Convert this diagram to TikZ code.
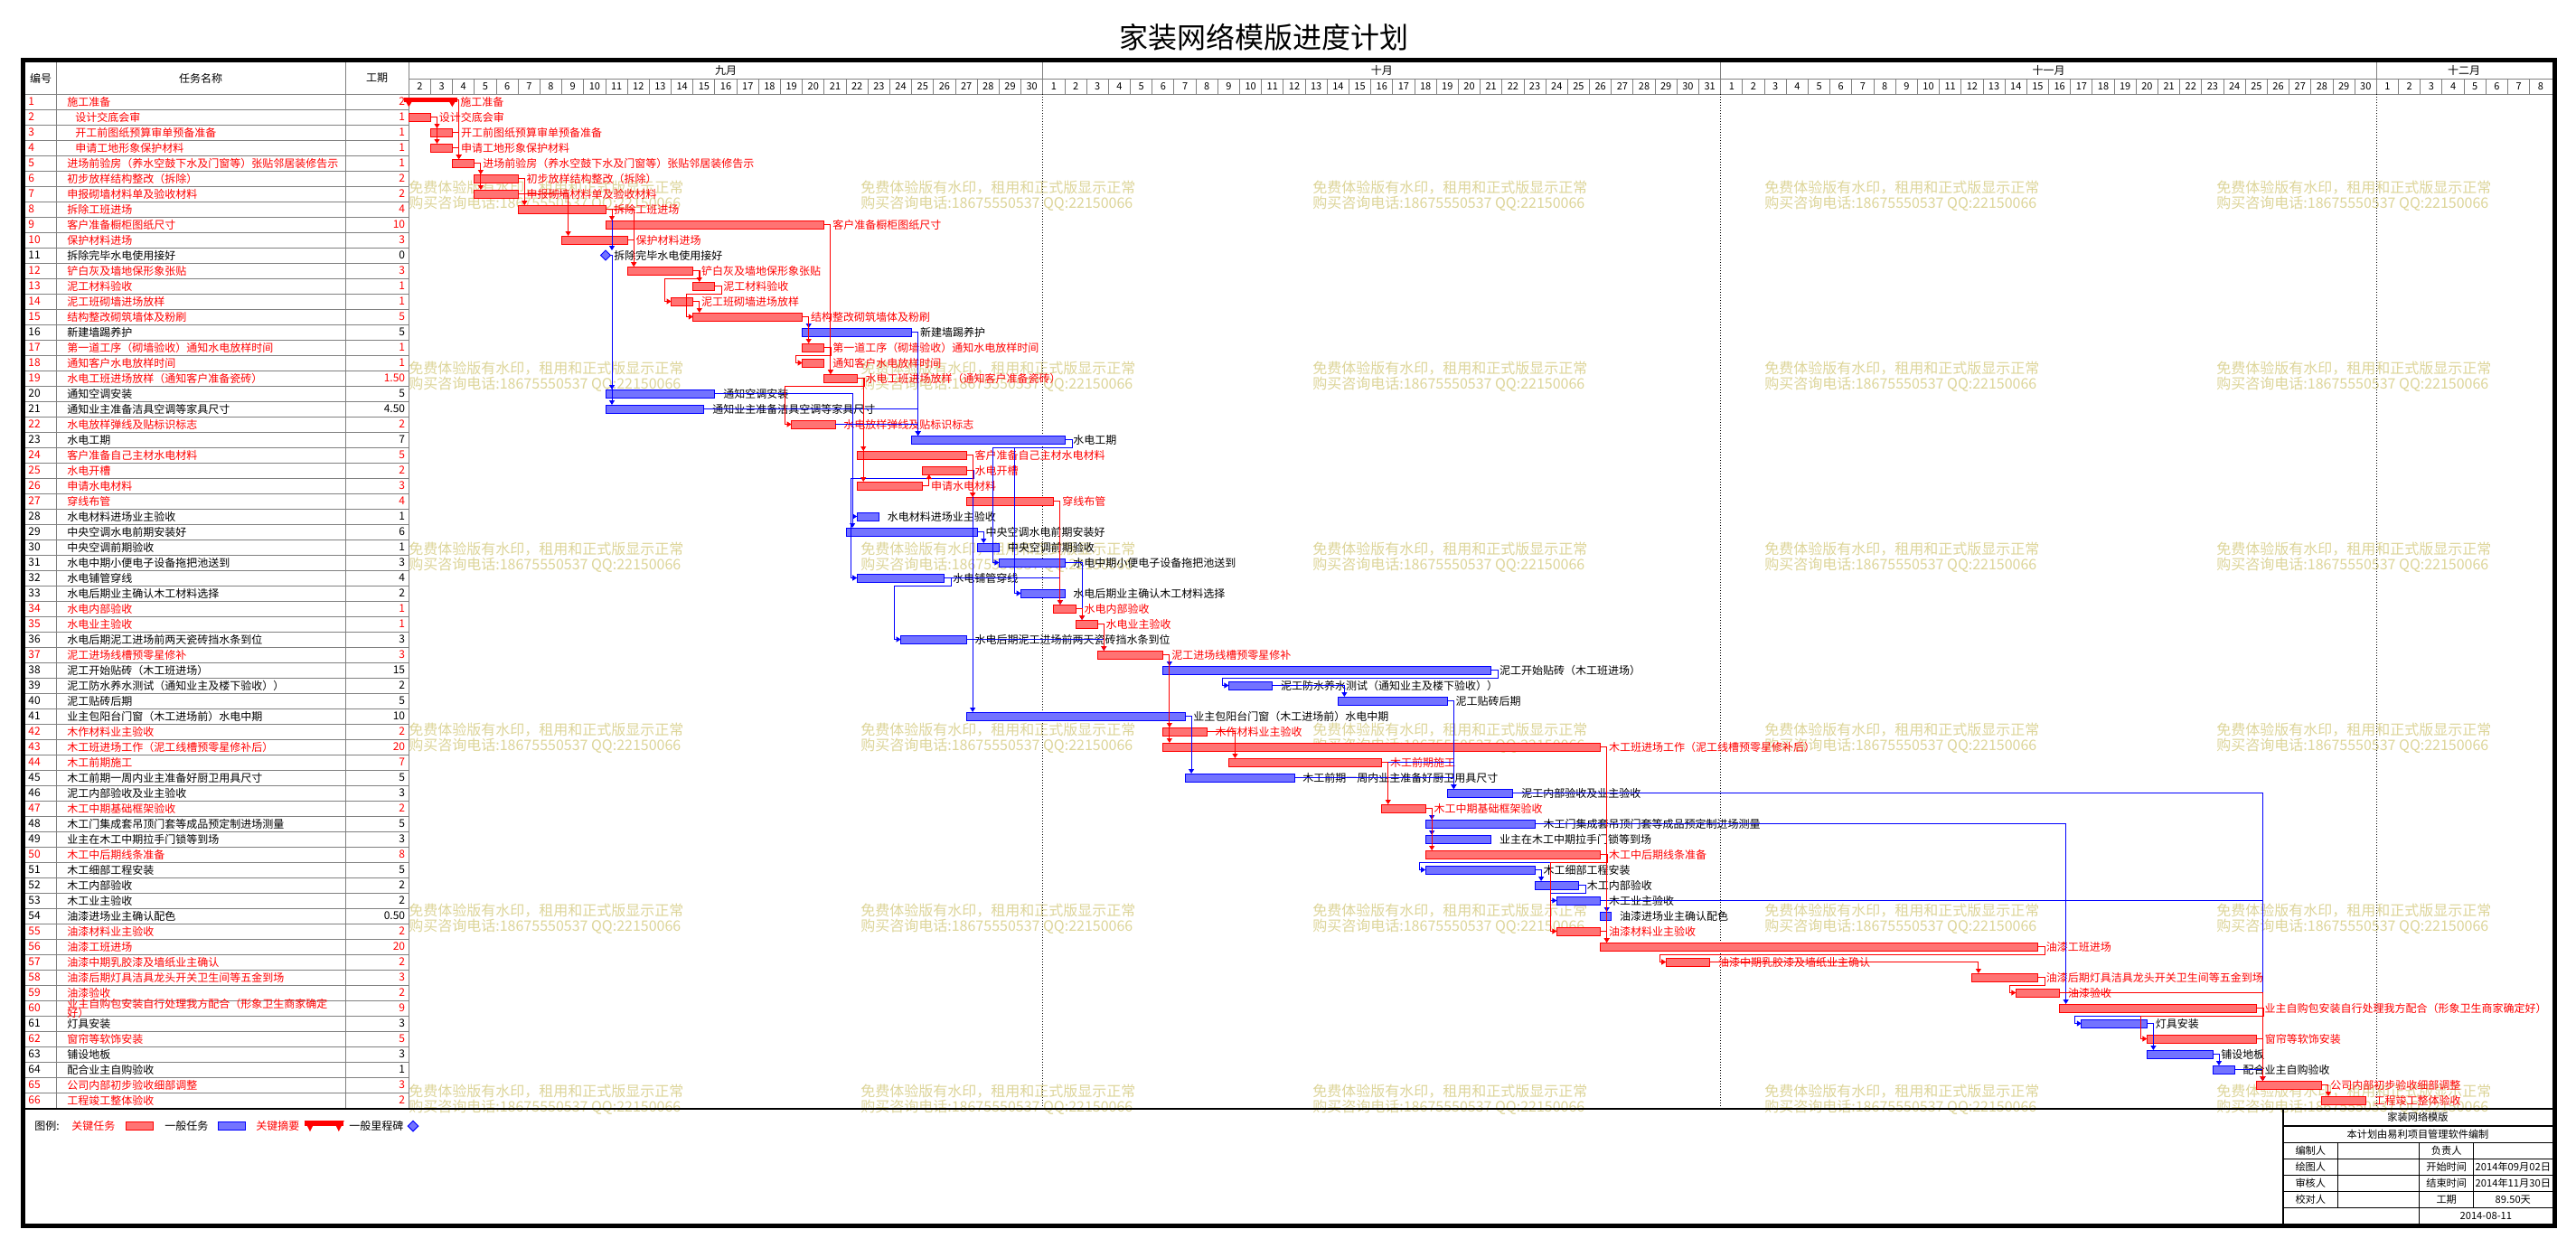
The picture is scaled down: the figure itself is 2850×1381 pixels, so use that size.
\documentclass[tikz,border=0pt]{standalone}
\usepackage{fontspec}
\newfontfamily\cjk{Noto Sans CJK SC}
\usetikzlibrary{arrows.meta,shapes.geometric}
\definecolor{wmark}{RGB}{221,213,153}
\definecolor{gridgray}{RGB}{128,128,128}

\begin{document}
\begin{tikzpicture}[x=0.5pt, y=-0.5pt, font={\cjk\fontsize{6pt}{7pt}\selectfont},
	barr/.style={rectangle, draw=red, fill=red!55, line width=0.5pt, inner sep=0pt, outer sep=0pt, minimum height=4.5pt, anchor=west},
	barb/.style={barr, draw=blue, fill=blue!55},
	txtr/.style={text=red, anchor=west, inner sep=0pt},
	txtb/.style={txtr, text=black},
	lnkr/.style={draw=red, line width=0.5pt, -{Triangle[length=2.5pt,width=3pt]}},
	lnkb/.style={lnkr, draw=blue},
	wm/.style={text=wmark, anchor=west, inner sep=0pt, font={\cjk\fontsize{8pt}{9pt}\selectfont}},
	daytxt/.style={inner sep=0pt, font={\cjk\fontsize{5.5pt}{6pt}\selectfont}},
	grd/.style={draw=gridgray, line width=0.5pt},
	blk/.style={inner sep=0pt, font={\cjk\fontsize{5.6pt}{6pt}\selectfont}}]

		\fill[white] (0,0) rectangle (2850,1381);
		\useasboundingbox (0,0) rectangle (2850,1381);

		\node[font={\cjk\fontsize{16pt}{18pt}\selectfont}] (title) at (1398,41) {家装网络模版进度计划};

		% watermark
		\foreach \j in {0,...,4}
			\foreach \k in {0,...,5} {
				\node[wm] at ({452+500*\j},{208+200*\k}) {免费体验版有水印，租用和正式版显示正常};
				\node[wm] at ({452+500*\j},{225.5+200*\k}) {购买咨询电话:18675550537 QQ:22150066};
			}

		% table and time scale
		\draw[grd] (28,104) -- (2824,104);
		\draw[grd] (452,87) -- (2824,87);
		\foreach \r in {1,...,65}
			\draw[grd] (28,{104+17*\r}) -- (452,{104+17*\r});
		\foreach \x in {62,382,452}
			\draw[grd] (\x,69) -- (\x,1227);
		\foreach \d in {1,...,97}
			\draw[grd] ({452.3+24.19*\d},87) -- ++(0,17);
		\foreach \d in {29,60,90} {
			\draw[grd] ({452.3+24.19*\d},69) -- ++(0,35);
			\draw[densely dotted, line width=0.5pt] ({452.3+24.19*\d},104) -- ({452.3+24.19*\d},1227);
		}
		\node at (45,86.5) {编号};
		\node at (222,86.5) {任务名称};
		\node at (417,86.5) {工期};
		\node at ({452.3+24.19*14.5},78) {九月};
		\node at ({452.3+24.19*44.5},78) {十月};
		\node at ({452.3+24.19*75},78) {十一月};
		\node at ({452.3+24.19*94},78) {十二月};
		\foreach \n [count=\k from 0] in {2,...,30}
			\node[daytxt] at ({452.3+24.19*(\k+0.5)},95.5) {\n};
		\foreach \n [count=\k from 29] in {1,...,31}
			\node[daytxt] at ({452.3+24.19*(\k+0.5)},95.5) {\n};
		\foreach \n [count=\k from 60] in {1,...,30}
			\node[daytxt] at ({452.3+24.19*(\k+0.5)},95.5) {\n};
		\foreach \n [count=\k from 90] in {1,...,8}
			\node[daytxt] at ({452.3+24.19*(\k+0.5)},95.5) {\n};

		% summary task 1
		\node[txtr] at (31,112.5) {1};
		\node[txtr] at (74,112.5) {施工准备};
		\node[txtr, anchor=east] at (448.5,112.5) {2};
		\node[rectangle, fill=red, inner sep=0pt, outer sep=0pt, minimum width=29.75pt, minimum height=2.5pt, anchor=north west] (b1) at (446.6,108.3) {};
		\fill[red] (b1.north west) -- ++(11.5,0) -- ++(-5.75,10) -- cycle;
		\fill[red] (b1.north east) -- ++(-11.5,0) -- ++(5.75,10) -- cycle;
		\node[txtr] at (509,112.5) {施工准备};

		% milestone 11
		\node[txtb] at (31,282.5) {11};
		\node[txtb] at (74,282.5) {拆除完毕水电使用接好};
		\node[txtb, anchor=east] at (448.5,282.5) {0};
		\node[diamond, draw=blue, fill=blue!55, line width=0.5pt, inner sep=0pt, outer sep=0pt, minimum width=5.5pt, minimum height=5.5pt] (b11) at (670,282.5) {};
		\node[txtb] at (679,282.5) {拆除完毕水电使用接好};

		% task 60 (two lines in the table)
		\node[txtr] at (31,1115.5) {60};
		\node[txtr] at (74,1110.5) {业主自购包安装自行处理我方配合（形象卫生商家确定};
		\node[txtr] at (74,1120.5) {好）};
		\node[txtr, anchor=east] at (448.5,1115.5) {9};
		\node[barr, minimum width=108.86pt] (b60) at (2278.6,1115.5) {};
		\node[txtr] at ([xshift=4.5pt]b60.east) {业主自购包安装自行处理我方配合（形象卫生商家确定好）};

		% tasks: id/start/end/kind/duration/name x/name
		\foreach \tid/\ts/\te/\tk/\tdur/\tx/\tname in {
			2/0/1/r/1/83/设计交底会审,
			3/1/2/r/1/83/开工前图纸预算审单预备准备,
			4/1/2/r/1/83/申请工地形象保护材料,
			5/2/3/r/1/74/进场前验房（养水空鼓下水及门窗等）张贴邻居装修告示,
			6/3/5/r/2/74/初步放样结构整改（拆除）,
			7/3/5/r/2/74/申报砌墙材料单及验收材料,
			8/5/9/r/4/74/拆除工班进场,
			9/9/19/r/10/74/客户准备橱柜图纸尺寸,
			10/7/10/r/3/74/保护材料进场,
			12/10/13/r/3/74/铲白灰及墙地保形象张贴,
			13/13/14/r/1/74/泥工材料验收,
			14/12/13/r/1/74/泥工班砌墙进场放样,
			15/13/18/r/5/74/结构整改砌筑墙体及粉刷,
			16/18/23/b/5/74/新建墙踢养护,
			17/18/19/r/1/74/第一道工序（砌墙验收）通知水电放样时间,
			18/18/19/r/1/74/通知客户水电放样时间,
			19/19/20.5/r/1.50/74/水电工班进场放样（通知客户准备瓷砖）,
			20/9/14/b/5/74/通知空调安装,
			21/9/13.5/b/4.50/74/通知业主准备洁具空调等家具尺寸,
			22/17.5/19.5/r/2/74/水电放样弹线及贴标识标志,
			23/23/30/b/7/74/水电工期,
			24/20.5/25.5/r/5/74/客户准备自己主材水电材料,
			25/23.5/25.5/r/2/74/水电开槽,
			26/20.5/23.5/r/3/74/申请水电材料,
			27/25.5/29.5/r/4/74/穿线布管,
			28/20.5/21.5/b/1/74/水电材料进场业主验收,
			29/20/26/b/6/74/中央空调水电前期安装好,
			30/26/27/b/1/74/中央空调前期验收,
			31/27/30/b/3/74/水电中期小便电子设备拖把池送到,
			32/20.5/24.5/b/4/74/水电铺管穿线,
			33/28/30/b/2/74/水电后期业主确认木工材料选择,
			34/29.5/30.5/r/1/74/水电内部验收,
			35/30.5/31.5/r/1/74/水电业主验收,
			36/22.5/25.5/b/3/74/水电后期泥工进场前两天瓷砖挡水条到位,
			37/31.5/34.5/r/3/74/泥工进场线槽预零星修补,
			38/34.5/49.5/b/15/74/泥工开始贴砖（木工班进场）,
			39/37.5/39.5/b/2/74/泥工防水养水测试（通知业主及楼下验收））,
			40/42.5/47.5/b/5/74/泥工贴砖后期,
			41/25.5/35.5/b/10/74/业主包阳台门窗（木工进场前）水电中期,
			42/34.5/36.5/r/2/74/木作材料业主验收,
			43/34.5/54.5/r/20/74/木工班进场工作（泥工线槽预零星修补后）,
			44/37.5/44.5/r/7/74/木工前期施工,
			45/35.5/40.5/b/5/74/木工前期一周内业主准备好厨卫用具尺寸,
			46/47.5/50.5/b/3/74/泥工内部验收及业主验收,
			47/44.5/46.5/r/2/74/木工中期基础框架验收,
			48/46.5/51.5/b/5/74/木工门集成套吊顶门套等成品预定制进场测量,
			49/46.5/49.5/b/3/74/业主在木工中期拉手门锁等到场,
			50/46.5/54.5/r/8/74/木工中后期线条准备,
			51/46.5/51.5/b/5/74/木工细部工程安装,
			52/51.5/53.5/b/2/74/木工内部验收,
			53/52.5/54.5/b/2/74/木工业主验收,
			54/54.5/55/b/0.50/74/油漆进场业主确认配色,
			55/52.5/54.5/r/2/74/油漆材料业主验收,
			56/54.5/74.5/r/20/74/油漆工班进场,
			57/57.5/59.5/r/2/74/油漆中期乳胶漆及墙纸业主确认,
			58/71.5/74.5/r/3/74/油漆后期灯具洁具龙头开关卫生间等五金到场,
			59/73.5/75.5/r/2/74/油漆验收,
			61/76.5/79.5/b/3/74/灯具安装,
			62/79.5/84.5/r/5/74/窗帘等软饰安装,
			63/79.5/82.5/b/3/74/铺设地板,
			64/82.5/83.5/b/1/74/配合业主自购验收,
			65/84.5/87.5/r/3/74/公司内部初步验收细部调整,
			66/87.5/89.5/r/2/74/工程竣工整体验收} {
			\node[txt\tk] at (31,{95.5+17*\tid}) {\tid};
			\node[txt\tk] at (\tx,{95.5+17*\tid}) {\tname};
			\node[txt\tk, anchor=east] at (448.5,{95.5+17*\tid}) {\tdur};
			\pgfmathsetmacro\tw{(\te-\ts)*12.095}
			\node[bar\tk, minimum width=\tw pt] (b\tid) at ({452.3+24.19*\ts},{95.5+17*\tid}) {};
			\node[txt\tk] at ([xshift=4.5pt]b\tid.east) {\tname};
		}

		% links, general
		\draw[lnkb] (b8.east) -| ([xshift=3.5pt]b11.north);
		\draw[lnkb] (b11.east) -| ([xshift=3.5pt]b20.north west);
		\draw[lnkb] (b11.east) -| ([xshift=3.5pt]b21.north west);
		\draw[lnkb] (b15.east) -| ([xshift=3.5pt]b16.north west);
		\draw[lnkb] (b16.east) -| ([xshift=3.5pt]b23.north west);
		\draw[lnkb] (b21.east) -| ([xshift=3.5pt]b23.north west);
		\draw[lnkb] (b22.east) -| ([xshift=3.5pt]b23.north west);
		\draw[lnkb] (b20.east) -| ([xshift=3.5pt]b29.north west);
		\draw[lnkb] (b20.east) -| ([xshift=-2.5pt]b28.west) -- (b28.west);
		\draw[lnkb] (b24.east) -| ([xshift=3.5pt]b41.north west);
		\draw[lnkb] (b29.east) -| ([xshift=3.5pt]b30.north west);
		\draw[lnkb] (b32.east) -| ([xshift=3.5pt]b34.north west);
		\draw[lnkb] (b31.east) -| ([xshift=3.5pt]b35.north west);
		\draw[lnkb] (b36.east) -| ([xshift=3.5pt]b37.north west);
		\draw[lnkb] (b37.east) -| ([xshift=3.5pt]b38.north west);
		\draw[lnkb] (b41.east) -| ([xshift=3.5pt]b45.north west);
		\draw[lnkb] (b39.east) -| ([xshift=3.5pt]b40.north west);
		\draw[lnkb] (b40.east) -| ([xshift=3.5pt]b46.north west);
		\draw[lnkb] (b44.east) -| ([xshift=3.5pt]b46.north west);
		\draw[lnkb] (b45.east) -| ([xshift=3.5pt]b46.north west);
		\draw[lnkb] (b47.east) -| ([xshift=3.5pt]b48.north west);
		\draw[lnkb] (b47.east) -| ([xshift=3.5pt]b49.north west);
		\draw[lnkb] (b51.east) -| ([xshift=3.5pt]b52.north west);
		\draw[lnkb] (b43.east) -| ([xshift=3.5pt]b54.north west);
		\draw[lnkb] (b46.east) -| ([xshift=3.5pt]b65.north west);
		\draw[lnkb] (b48.east) -| ([xshift=3.5pt]b60.north west);
		\draw[lnkb] (b53.east) -| ([xshift=3.5pt]b65.north west);
		\draw[lnkb] (b61.east) -| ([xshift=3.5pt]b63.north west);
		\draw[lnkb] (b63.east) -| ([xshift=3.5pt]b64.north west);
		\draw[lnkb] (b64.east) -| ([xshift=3.5pt]b65.north west);
		\draw[lnkb] (b25.east) -- ++(8,0) -- ++(0,8.5) -| ([xshift=-3.5pt]b32.west) -- (b32.west);
		\draw[lnkb] (b23.east) -- ++(8,0) -- ++(0,8.5) -| ([xshift=-3.5pt]b31.west) -- (b31.west);
		\draw[lnkb] (b23.east) -- ++(8,0) -- ++(0,8.5) -| ([xshift=-3.5pt]b33.west) -- (b33.west);
		\draw[lnkb] (b32.east) -- ++(8,0) -- ++(0,8.5) -| ([xshift=-3.5pt]b36.west) -- (b36.west);
		\draw[lnkb] (b38.east) -- ++(8,0) -- ++(0,8.5) -| ([xshift=-3.5pt]b39.west) -- (b39.west);
		\draw[lnkb] (b50.east) -- ++(8,0) -- ++(0,8.5) -| ([xshift=-3.5pt]b51.west) -- (b51.west);
		\draw[lnkb] (b52.east) -- ++(8,0) -- ++(0,8.5) -| ([xshift=-3.5pt]b53.west) -- (b53.west);
		\draw[lnkb] (b60.east) -- ++(8,0) -- ++(0,8.5) -| ([xshift=-3.5pt]b61.west) -- (b61.west);

		% links, critical
		\draw[lnkr] (b1.east) -| ([xshift=3.5pt]b5.north west);
		\draw[lnkr] (b2.east) -| ([xshift=3.5pt]b3.north west);
		\draw[lnkr] (b2.east) -| ([xshift=3.5pt]b4.north west);
		\draw[lnkr] (b3.east) -| ([xshift=3.5pt]b5.north west);
		\draw[lnkr] (b4.east) -| ([xshift=3.5pt]b5.north west);
		\draw[lnkr] (b5.east) -| ([xshift=3.5pt]b6.north west);
		\draw[lnkr] (b5.east) -| ([xshift=3.5pt]b7.north west);
		\draw[lnkr] (b6.east) -| ([xshift=3.5pt]b8.north west);
		\draw[lnkr] (b7.east) -| ([xshift=3.5pt]b8.north west);
		\draw[lnkr] (b7.east) -| ([xshift=3.5pt]b10.north west);
		\draw[lnkr] (b8.east) -| ([xshift=3.5pt]b9.north west);
		\draw[lnkr] (b8.east) -| ([xshift=3.5pt]b12.north west);
		\draw[lnkr] (b10.east) -| ([xshift=3.5pt]b12.north west);
		\draw[lnkr] (b12.east) -| ([xshift=3.5pt]b13.north west);
		\draw[lnkr] (b14.east) -| ([xshift=3.5pt]b15.north west);
		\draw[lnkr] (b15.east) -| ([xshift=3.5pt]b17.north west);
		\draw[lnkr] (b17.east) -| ([xshift=3.5pt]b19.north west);
		\draw[lnkr] (b9.east) -| ([xshift=3.5pt]b19.north west);
		\draw[lnkr] (b19.east) -| ([xshift=3.5pt]b24.north west);
		\draw[lnkr] (b19.east) -| ([xshift=3.5pt]b26.north west);
		\draw[lnkr] (b26.east) -| ([xshift=3.5pt]b25.south west);
		\draw[lnkr] (b24.east) -| ([xshift=3.5pt]b27.north west);
		\draw[lnkr] (b25.east) -| ([xshift=3.5pt]b27.north west);
		\draw[lnkr] (b27.east) -| ([xshift=3.5pt]b34.north west);
		\draw[lnkr] (b34.east) -| ([xshift=3.5pt]b35.north west);
		\draw[lnkr] (b35.east) -| ([xshift=3.5pt]b37.north west);
		\draw[lnkr] (b37.east) -| ([xshift=3.5pt]b42.north west);
		\draw[lnkr] (b37.east) -| ([xshift=3.5pt]b43.north west);
		\draw[lnkr] (b42.east) -| ([xshift=3.5pt]b44.north west);
		\draw[lnkr] (b44.east) -| ([xshift=3.5pt]b47.north west);
		\draw[lnkr] (b47.east) -| ([xshift=3.5pt]b50.north west);
		\draw[lnkr] (b43.east) -| ([xshift=3.5pt]b56.north west);
		\draw[lnkr] (b55.east) -| ([xshift=3.5pt]b56.north west);
		\draw[lnkr] (b57.east) -| ([xshift=3.5pt]b58.north west);
		\draw[lnkr] (b59.east) -| ([xshift=3.5pt]b65.north west);
		\draw[lnkr] (b62.east) -| ([xshift=3.5pt]b65.north west);
		\draw[lnkr] (b65.east) -| ([xshift=3.5pt]b66.north west);
		\draw[lnkr] (b12.east) -- ++(8,0) -- ++(0,8.5) -| ([xshift=-3.5pt]b14.west) -- (b14.west);
		\draw[lnkr] (b13.east) -- ++(8,0) -- ++(0,8.5) -| ([xshift=-3.5pt]b15.west) -- (b15.west);
		\draw[lnkr] (b17.east) -- ++(8,0) -- ++(0,8.5) -| ([xshift=-3.5pt]b18.west) -- (b18.west);
		\draw[lnkr] (b19.east) -- ++(8,0) -- ++(0,8.5) -| ([xshift=-3.5pt]b22.west) -- (b22.west);
		\draw[lnkr] (b50.east) -- ++(8,0) -- ++(0,8.5) -| ([xshift=-3.5pt]b55.west) -- (b55.west);
		\draw[lnkr] (b56.east) -- ++(8,0) -- ++(0,8.5) -| ([xshift=-3.5pt]b57.west) -- (b57.west);
		\draw[lnkr] (b58.east) -- ++(8,0) -- ++(0,8.5) -| ([xshift=-3.5pt]b59.west) -- (b59.west);
		\draw[lnkr] (b60.east) -- ++(8,0) -- ++(0,8.5) -| ([xshift=-3.5pt]b62.west) -- (b62.west);

		% legend
		\draw[line width=1pt] (28,1227) -- (2824,1227);
		\node[anchor=west, inner sep=0pt] at (38,1246) {图例:};
		\node[txtr] at (79,1246) {关键任务};
		\node[barr, minimum width=15pt] (lg1) at (139,1246) {};
		\node[txtb] at (182,1246) {一般任务};
		\node[barb, minimum width=15pt] (lg2) at (241,1246) {};
		\node[txtr] at (283,1246) {关键摘要};
		\node[rectangle, fill=red, inner sep=0pt, minimum width=21.5pt, minimum height=3pt, anchor=north west] (lg3) at (337,1240) {};
		\fill[red] (lg3.north west) -- ++(12,0) -- ++(-6,12) -- cycle;
		\fill[red] (lg3.north east) -- ++(-12,0) -- ++(6,12) -- cycle;
		\node[txtb] at (386,1246) {一般里程碑};
		\node[diamond, draw=blue, fill=blue!55, line width=0.5pt, inner sep=0pt, minimum width=6pt, minimum height=6pt] (lg4) at (457,1246) {};

		% title block
		\draw[line width=0.6pt] (2526,1227) -- (2526,1355);
		\foreach \y in {1246,1264.3,1282.3,1300.3,1318.3,1336.3}
			\draw[line width=0.6pt] (2526,\y) -- (2824,\y);
		\draw[line width=0.6pt] (2586.7,1264.3) -- (2586.7,1336.3);
		\draw[line width=0.6pt] (2676.7,1264.3) -- (2676.7,1355);
		\draw[line width=0.6pt] (2736.7,1264.3) -- (2736.7,1336.3);
		\node[blk] at (2675,1236.5) {家装网络模版};
		\node[blk] at (2675,1255.2) {本计划由易利项目管理软件编制};
		\node[blk] at (2556.3,1273.3) {编制人};
		\node[blk] at (2706.7,1273.3) {负责人};
		\node[blk] at (2556.3,1291.3) {绘图人};
		\node[blk] at (2706.7,1291.3) {开始时间};
		\node[blk] at (2780.3,1291.3) {2014年09月02日};
		\node[blk] at (2556.3,1309.3) {审核人};
		\node[blk] at (2706.7,1309.3) {结束时间};
		\node[blk] at (2780.3,1309.3) {2014年11月30日};
		\node[blk] at (2556.3,1327.3) {校对人};
		\node[blk] at (2706.7,1327.3) {工期};
		\node[blk] at (2780.3,1327.3) {89.50天};
		\node[blk] at (2750.3,1345.2) {2014-08-11};

		% frame
		\draw[line width=2.35pt] (25.5,66.7) rectangle (2826.5,1356.7);
\end{tikzpicture}
\end{document}
